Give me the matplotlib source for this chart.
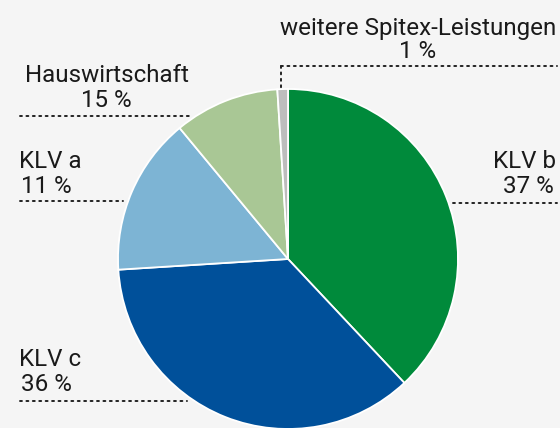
import matplotlib
matplotlib.use("Agg")
import matplotlib.pyplot as plt

# Slice data (as drawn, clockwise from top)
slice_names = ["KLV b", "KLV c", "light blue", "light green", "weitere Spitex-Leistungen"]
slice_values = [38, 36, 15, 10, 1]
slice_colors = ["#008A3B", "#00509A", "#7DB4D4", "#A9C795", "#BDBDBD"]

# Label texts (as printed in the chart)
label_titles = ["weitere Spitex-Leistungen", "Hauswirtschaft", "KLV a", "KLV b", "KLV c"]
label_percents = ["1 %", "15 %", "11 %", "37 %", "36 %"]

W, H = 560, 428
fig = plt.figure(figsize=(W / 100, H / 100), dpi=100)
fig.patch.set_facecolor("#F5F5F5")
ax = fig.add_axes([0, 0, 1, 1])
ax.set_facecolor("#F5F5F5")

cx, cy, r = 288, H - 259, 170
ax.pie(slice_values, colors=slice_colors, startangle=90, counterclock=False,
       center=(cx, cy), radius=r,
       wedgeprops=dict(edgecolor="white", linewidth=1.3))
ax.set_xlim(0, W)
ax.set_ylim(0, H)
ax.set_aspect("equal")
ax.axis("off")

plt.rcParams["font.family"] = ["Roboto", "DejaVu Sans"]
tc = "#1A1A1A"
fs = 17.4

def Y(y):
    return H - y

dot = dict(color="#222222", linewidth=1.4, linestyle=(0, (1, 2.3)), dash_capstyle="round")

# weitere Spitex-Leistungen
ax.text(418, Y(35), label_titles[0], ha="center", va="baseline", fontsize=fs, color=tc)
ax.text(418, Y(58), label_percents[0], ha="center", va="baseline", fontsize=fs, color=tc)
ax.plot([281, 557], [Y(66), Y(66)], **dot)
ax.plot([281, 281], [Y(66), Y(89)], **dot)

# Hauswirtschaft
ax.text(107, Y(82), label_titles[1], ha="center", va="baseline", fontsize=fs, color=tc)
ax.text(106, Y(107), label_percents[1], ha="center", va="baseline", fontsize=fs, color=tc)
ax.plot([20, 193], [Y(116), Y(116)], **dot)

# KLV a
ax.text(19, Y(168), label_titles[2], ha="left", va="baseline", fontsize=fs, color=tc)
ax.text(21, Y(193), label_percents[2], ha="left", va="baseline", fontsize=fs, color=tc)
ax.plot([20, 123], [Y(201), Y(201)], **dot)

# KLV b
ax.text(556, Y(168), label_titles[3], ha="right", va="baseline", fontsize=fs, color=tc)
ax.text(554, Y(193), label_percents[3], ha="right", va="baseline", fontsize=fs, color=tc)
ax.plot([453, 557], [Y(203), Y(203)], **dot)

# KLV c
ax.text(19, Y(366), label_titles[4], ha="left", va="baseline", fontsize=fs, color=tc)
ax.text(21, Y(391), label_percents[4], ha="left", va="baseline", fontsize=fs, color=tc)
ax.plot([20, 187], [Y(401), Y(401)], **dot)

fig.savefig("out.png", dpi=100, facecolor=fig.get_facecolor())
